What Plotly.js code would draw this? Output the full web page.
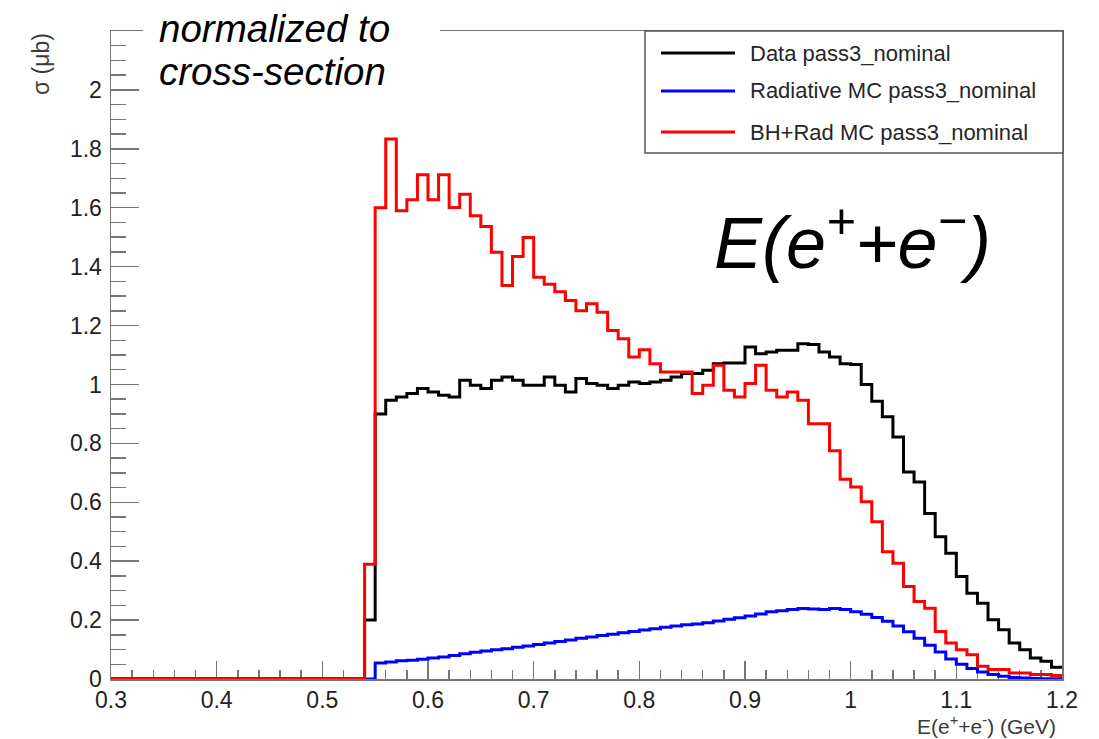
<!DOCTYPE html>
<html>
<head>
<meta charset="utf-8">
<script src="https://cdn.plot.ly/plotly-3.0.1.min.js"></script>
<style>
  html, body { margin: 0; padding: 0; background: #ffffff; }
  #plot { width: 1099px; height: 739px; }
</style>
</head>
<body>
<div id="plot"></div>
<script>
// Histogram binning: 0.01 GeV bins covering 0.3 - 1.2 GeV
const binLow = 0.3;
const binWidth = 0.01;

// Cross-section per bin (μb), bins 0.30 ... 1.19
const dataPass3 = [
  0, 0, 0, 0, 0, 0, 0, 0, 0, 0, 0, 0, 0, 0, 0, 0, 0, 0, 0, 0, 0, 0, 0, 0,
  0.20, 0.900, 0.946, 0.957, 0.969, 0.986, 0.974, 0.963, 0.957, 1.014,
  0.997, 0.986, 1.014, 1.025, 1.014, 0.997, 0.997, 1.025, 0.997, 0.974,
  1.020, 1.003, 0.997, 0.986, 0.997, 1.008, 1.003, 1.008, 1.014, 1.025,
  1.037, 1.037, 1.048, 1.070, 1.073, 1.073, 1.127, 1.104, 1.110, 1.116,
  1.116, 1.138, 1.136, 1.110, 1.093, 1.070, 1.068, 1.000, 0.943, 0.890,
  0.822, 0.703, 0.669, 0.562, 0.483, 0.427, 0.348, 0.291, 0.257, 0.201,
  0.167, 0.122, 0.099, 0.071, 0.060, 0.040
];

const radiativeMC = [
  0, 0, 0, 0, 0, 0, 0, 0, 0, 0, 0, 0, 0, 0, 0, 0, 0, 0, 0, 0, 0, 0, 0, 0,
  0, 0.054, 0.058, 0.062, 0.064, 0.067, 0.071, 0.075, 0.080, 0.086,
  0.091, 0.095, 0.099, 0.103, 0.108, 0.112, 0.117, 0.122, 0.127, 0.132,
  0.138, 0.143, 0.148, 0.152, 0.157, 0.161, 0.166, 0.171, 0.176, 0.180,
  0.184, 0.187, 0.191, 0.197, 0.203, 0.208, 0.214, 0.221, 0.228, 0.232,
  0.236, 0.239, 0.238, 0.236, 0.239, 0.236, 0.228, 0.220, 0.209, 0.196,
  0.180, 0.160, 0.138, 0.115, 0.092, 0.068, 0.050, 0.036, 0.024, 0.015,
  0.009, 0.005, 0.003, 0.002, 0.001, 0.001
];

const bhRadMC = [
  0, 0, 0, 0, 0, 0, 0, 0, 0, 0, 0, 0, 0, 0, 0, 0, 0, 0, 0, 0, 0, 0, 0, 0,
  0.39, 1.600, 1.833, 1.590, 1.627, 1.712, 1.627, 1.712, 1.601, 1.646,
  1.573, 1.536, 1.449, 1.336, 1.434, 1.499, 1.364, 1.340, 1.315, 1.285,
  1.250, 1.274, 1.245, 1.183, 1.155, 1.093, 1.118, 1.070, 1.042, 1.042,
  1.042, 0.969, 0.997, 1.065, 0.980, 0.957, 1.003, 1.065, 0.980, 0.957,
  0.974, 0.946, 0.867, 0.867, 0.775, 0.678, 0.652, 0.602, 0.534, 0.432,
  0.393, 0.314, 0.263, 0.240, 0.161, 0.122, 0.099, 0.082, 0.043, 0.032,
  0.032, 0.020, 0.020, 0.015, 0.015, 0.012
];

const seriesNames = [
  'Data pass3_nominal',
  'Radiative MC pass3_nominal',
  'BH+Rad MC pass3_nominal'
];
const seriesColors = ['#000000', '#0000ff', '#ff0000'];

const xTickVals = [0.3, 0.4, 0.5, 0.6, 0.7, 0.8, 0.9, 1.0, 1.1, 1.2];
const xTickText = ['0.3', '0.4', '0.5', '0.6', '0.7', '0.8', '0.9', '1', '1.1', '1.2'];
const yTickVals = [0, 0.2, 0.4, 0.6, 0.8, 1.0, 1.2, 1.4, 1.6, 1.8, 2.0];
const yTickText = ['0', '0.2', '0.4', '0.6', '0.8', '1', '1.2', '1.4', '1.6', '1.8', '2'];

const xTitle = 'E(e<sup>+</sup>+e<sup>-</sup>) (GeV)';
const yTitle = 'σ (μb)';
const noteLines = ['normalized to', 'cross-section'];
const bigLabel = 'E(e<sup>+</sup>+e<sup>−</sup>)';

// Bin edges for the step outline
const edges = [];
for (let i = 0; i <= dataPass3.length; i++) {
  edges.push(+(binLow + i * binWidth).toFixed(4));
}

function stepTrace(values, name, color) {
  return {
    type: 'scatter',
    mode: 'lines',
    name: name,
    x: edges,
    y: values.concat([values[values.length - 1]]),
    line: { shape: 'hv', color: color, width: 3 },
    showlegend: false,
    hoverinfo: 'skip'
  };
}

const traces = [
  stepTrace(dataPass3, seriesNames[0], seriesColors[0]),
  stepTrace(radiativeMC, seriesNames[1], seriesColors[1]),
  stepTrace(bhRadMC, seriesNames[2], seriesColors[2])
];

// Frame geometry in page pixels
const W = 1099, H = 739;
const L = 111, R = 1062, T = 31, B = 679;
const xp = px => (px - L) / (R - L);
const yp = py => (B - py) / (B - T);

const FONT = 'Liberation Sans, Arial, Helvetica, sans-serif';
const axisGray = '#767676';

const legendRows = [53, 91, 132];

const shapes = [
  // gap in the top frame behind the note
  { type: 'rect', xref: 'paper', yref: 'paper', layer: 'above',
    x0: xp(143), x1: xp(440), y0: yp(44), y1: yp(22),
    fillcolor: '#ffffff', line: { width: 0 } },
  // legend box
  { type: 'rect', xref: 'paper', yref: 'paper', layer: 'above',
    x0: xp(645), x1: xp(1063), y0: yp(153), y1: yp(31),
    fillcolor: '#ffffff', line: { color: '#555555', width: 1.5 } }
];
legendRows.forEach((py, i) => {
  shapes.push({ type: 'line', xref: 'paper', yref: 'paper', layer: 'above',
    x0: xp(661), x1: xp(735), y0: yp(py), y1: yp(py),
    line: { color: seriesColors[i], width: 3 } });
});

const annotations = [];
legendRows.forEach((py, i) => {
  annotations.push({ xref: 'paper', yref: 'paper', x: xp(748), y: yp(py),
    xanchor: 'left', yanchor: 'middle', showarrow: false,
    text: seriesNames[i], font: { family: FONT, size: 22, color: '#262626' } });
});
annotations.push(
  { xref: 'paper', yref: 'paper', x: xp(157), y: yp(29), xanchor: 'left', yanchor: 'middle',
    showarrow: false, text: '<i>' + noteLines[0] + '</i>',
    font: { family: FONT, size: 38.5, color: '#000000' } },
  { xref: 'paper', yref: 'paper', x: xp(157), y: yp(72), xanchor: 'left', yanchor: 'middle',
    showarrow: false, text: '<i>' + noteLines[1] + '</i>',
    font: { family: FONT, size: 38.5, color: '#000000' } },
  { xref: 'paper', yref: 'paper', x: xp(712), y: yp(238), xanchor: 'left', yanchor: 'middle',
    showarrow: false, text: '<i>' + bigLabel + '</i>',
    font: { family: FONT, size: 72, color: '#000000' } },
  { xref: 'paper', yref: 'paper', x: xp(41), y: yp(31), xanchor: 'center', yanchor: 'top',
    textangle: -90, showarrow: false, text: yTitle,
    font: { family: FONT, size: 23, color: '#3a3a3a' } },
  { xref: 'paper', yref: 'paper', x: xp(1058), y: yp(725), xanchor: 'right', yanchor: 'middle',
    showarrow: false, text: xTitle,
    font: { family: FONT, size: 21, color: '#3a3a3a' } }
);

const layout = {
  width: W, height: H,
  margin: { l: L, r: W - R, t: T, b: H - B, pad: 0 },
  paper_bgcolor: '#ffffff', plot_bgcolor: '#ffffff',
  font: { family: FONT, color: '#222222' },
  showlegend: false,
  xaxis: {
    range: [0.3, 1.2], tickmode: 'array', tickvals: xTickVals, ticktext: xTickText,
    ticks: 'inside', ticklen: 18, tickwidth: 1.5, tickcolor: axisGray,
    minor: { tickmode: 'linear', tick0: 0.3, dtick: 0.02, ticks: 'inside',
             ticklen: 9, tickwidth: 1.5, tickcolor: axisGray, showgrid: false },
    showline: true, linecolor: axisGray, linewidth: 1.5, mirror: true,
    showgrid: false, zeroline: false, layer: 'below traces',
    tickfont: { family: FONT, size: 23, color: '#222222' },
    ticklabelstandoff: 0, fixedrange: true
  },
  yaxis: {
    range: [0, 2.2], tickmode: 'array', tickvals: yTickVals, ticktext: yTickText,
    ticks: 'inside', ticklen: 28, tickwidth: 1.5, tickcolor: axisGray,
    minor: { tickmode: 'linear', tick0: 0, dtick: 0.05, ticks: 'inside',
             ticklen: 15, tickwidth: 1.5, tickcolor: axisGray, showgrid: false },
    showline: true, linecolor: axisGray, linewidth: 1.5, mirror: true,
    showgrid: false, zeroline: false, layer: 'below traces',
    tickfont: { family: FONT, size: 23, color: '#222222' },
    ticklabelstandoff: 3, fixedrange: true
  },
  shapes: shapes,
  annotations: annotations
};

Plotly.newPlot('plot', traces, layout, { staticPlot: true, displayModeBar: false });
</script>
</body>
</html>
